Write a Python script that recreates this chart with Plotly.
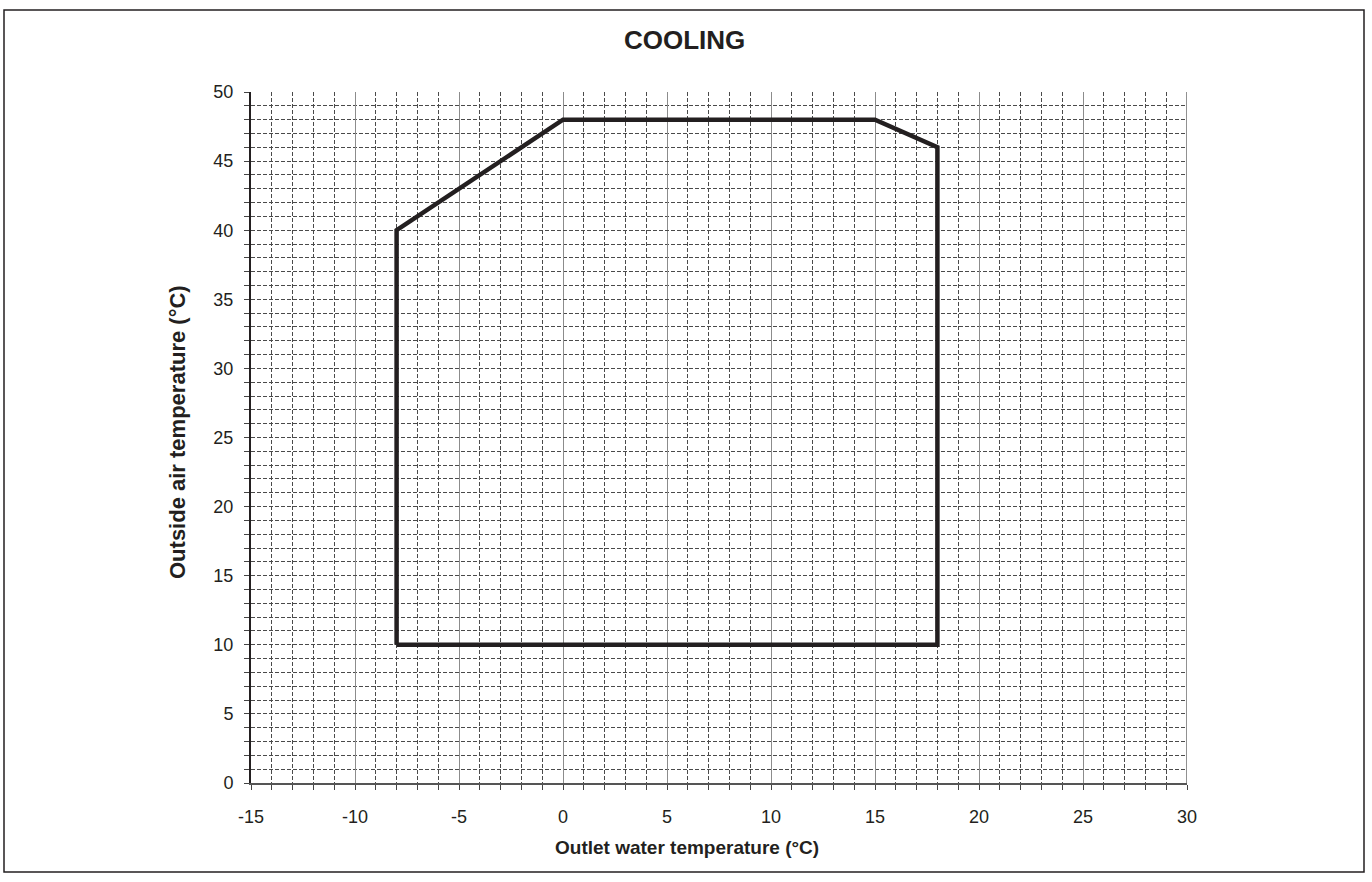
import plotly.graph_objects as go

# Operating envelope (cooling mode): outlet water temp vs outside air temp
water_temp = [-8, -8, 0, 15, 18, 18, -8]
air_temp = [10, 40, 48, 48, 46, 10, 10]

x_ticks = [-15, -10, -5, 0, 5, 10, 15, 20, 25, 30]
x_tick_text = ["-15", "-10", "-5", "0", "5", "10", "15", "20", "25", "30"]
y_ticks = [0, 5, 10, 15, 20, 25, 30, 35, 40, 45, 50]
y_tick_text = [str(v) for v in y_ticks]

W, H = 1372, 882
L, R, T, B = 251, 185, 92, 99
pw, ph = W - L - R, H - T - B

fig = go.Figure()
fig.add_trace(go.Scatter(
    x=water_temp, y=air_temp, mode="lines",
    line=dict(color="#231f20", width=4.5),
    hoverinfo="skip", showlegend=False,
))

font = "Liberation Sans, Arial, sans-serif"
dash = "4px,2px"


def px_to_paper(px, py):
    """Convert pixel position (from top-left of the figure) to paper coords."""
    return (px - L) / pw, (H - py - B) / ph


title_xy = px_to_paper(684, 40)
xtitle_xy = px_to_paper(553, 847)
ytitle_xy = px_to_paper(177, 432)
frame_lo = px_to_paper(4, 872)
frame_hi = px_to_paper(1364, 10)

fig.update_layout(
    width=W, height=H,
    margin=dict(l=L, r=R, t=T, b=B),
    paper_bgcolor="white", plot_bgcolor="white",
    font=dict(family=font, color="#231f20", size=18),
    xaxis=dict(
        range=[-15, 30], tickvals=x_ticks, ticktext=x_tick_text, showgrid=True,
        gridcolor="#8c8c8c", gridwidth=1.2,
        showline=True, linecolor="#555555", linewidth=1.5, mirror=False,
        ticks="outside", ticklen=5, tickcolor="#444", tickwidth=1,
        ticklabelstandoff=12,
        tickfont=dict(size=18), zeroline=False,
        minor=dict(dtick=1, showgrid=True, gridcolor="#4a4a4a", gridwidth=1,
                   griddash=dash, ticks="outside", ticklen=5, tickcolor="#444"),
    ),
    yaxis=dict(
        range=[0, 50], tickvals=y_ticks, ticktext=y_tick_text, showgrid=True,
        gridcolor="#4a4a4a", gridwidth=1, griddash=dash,
        showline=True, linecolor="#231f20", linewidth=2,
        ticks="outside", ticklen=5, tickcolor="#444", tickwidth=1,
        ticklabelstandoff=7,
        tickfont=dict(size=18), zeroline=False,
        minor=dict(dtick=1, showgrid=True, gridcolor="#4a4a4a", gridwidth=1,
                   griddash=dash, ticks="outside", ticklen=5, tickcolor="#444"),
    ),
    annotations=[
        dict(text="<b>COOLING</b>", x=title_xy[0], y=title_xy[1],
             xref="paper", yref="paper", showarrow=False,
             xanchor="center", yanchor="middle",
             font=dict(size=26, family=font, color="#231f20")),
        dict(text="<b>Outlet water temperature (°C)</b>", x=xtitle_xy[0],
             y=xtitle_xy[1], xref="paper", yref="paper", showarrow=False,
             xanchor="left", yanchor="middle",
             font=dict(size=19, family=font, color="#231f20")),
        dict(text="<b>Outside air temperature (°C)</b>", x=ytitle_xy[0],
             y=ytitle_xy[1], xref="paper", yref="paper", showarrow=False,
             xanchor="center", yanchor="middle", textangle=-90,
             font=dict(size=22, family=font, color="#231f20")),
    ],
    shapes=[
        # right border of the plot area
        dict(type="line", xref="x", yref="y", x0=30, x1=30, y0=0, y1=50,
             line=dict(color="#6d6d6d", width=1.5), layer="below"),
        # outer frame
        dict(type="rect", xref="paper", yref="paper",
             x0=frame_lo[0], x1=frame_hi[0], y0=frame_lo[1], y1=frame_hi[1],
             line=dict(color="#231f20", width=1.5)),
    ],
)

fig.write_html("out.html")
